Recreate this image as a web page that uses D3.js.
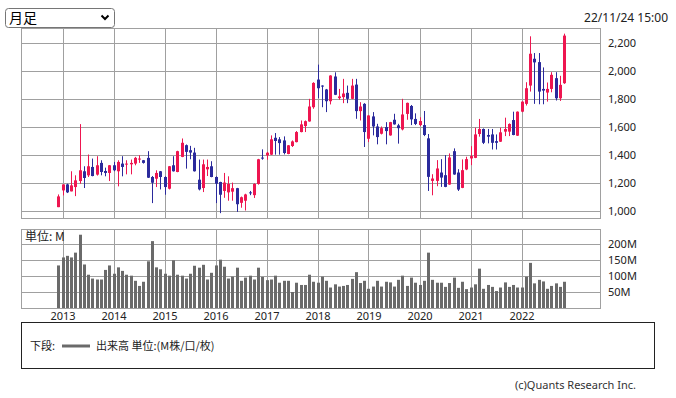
<!DOCTYPE html>
<html lang="ja">
<head>
<meta charset="UTF-8">
<title>月足チャート</title>
<style>
  body { margin: 0; background: #fff; font-family: 'Noto Sans', 'Noto Sans CJK JP', sans-serif; }
  svg { display: block; }
  .grid line, .frame { stroke: #a0a0a0; fill: none; shape-rendering: crispEdges; }
  .axis text { font-size: 11px; fill: #222; font-family: 'Noto Sans', sans-serif; }
  .axis path, .axis line { display: none; }
</style>
</head>
<body>
<svg id="chart" width="676" height="398"></svg>
<script src="https://d3js.org/d3.v7.min.js"></script>
<script>
// monthly candles, Dec 2012 - Nov 2022
const months = [
  "2012-12",
  "2013-01","2013-02","2013-03","2013-04","2013-05","2013-06","2013-07","2013-08","2013-09","2013-10","2013-11","2013-12",
  "2014-01","2014-02","2014-03","2014-04","2014-05","2014-06","2014-07","2014-08","2014-09","2014-10","2014-11","2014-12",
  "2015-01","2015-02","2015-03","2015-04","2015-05","2015-06","2015-07","2015-08","2015-09","2015-10","2015-11","2015-12",
  "2016-01","2016-02","2016-03","2016-04","2016-05","2016-06","2016-07","2016-08","2016-09","2016-10","2016-11","2016-12",
  "2017-01","2017-02","2017-03","2017-04","2017-05","2017-06","2017-07","2017-08","2017-09","2017-10","2017-11","2017-12",
  "2018-01","2018-02","2018-03","2018-04","2018-05","2018-06","2018-07","2018-08","2018-09","2018-10","2018-11","2018-12",
  "2019-01","2019-02","2019-03","2019-04","2019-05","2019-06","2019-07","2019-08","2019-09","2019-10","2019-11","2019-12",
  "2020-01","2020-02","2020-03","2020-04","2020-05","2020-06","2020-07","2020-08","2020-09","2020-10","2020-11","2020-12",
  "2021-01","2021-02","2021-03","2021-04","2021-05","2021-06","2021-07","2021-08","2021-09","2021-10","2021-11","2021-12",
  "2022-01","2022-02","2022-03","2022-04","2022-05","2022-06","2022-07","2022-08","2022-09","2022-10","2022-11"
];

const open = [
  1024,
  1144,1187,1137,1168,1211,1281,1252,1312,1257,1341,1283,1269,
  1324,1281,1336,1329,1331,1336,1365,1360,1377,1240,1228,1281,
  1240,1156,1324,1276,1384,1468,1432,1415,1221,1161,1295,1317,
  1240,1204,1140,1130,1135,1160,1055,1070,1130,1110,1190,1379,
  1395,1400,1521,1510,1502,1405,1462,1490,1562,1605,1638,1740,
  1938,1895,1867,1783,1960,1805,1812,1843,1800,1902,1712,1764,
  1514,1674,1602,1550,1598,1538,1650,1610,1581,1692,1749,1656,
  1612,1612,1517,1212,1212,1272,1253,1186,1425,1272,1162,1294,
  1373,1377,1548,1584,1541,1545,1497,1493,1565,1565,1648,1536,
  1708,1764,1895,2087,2063,1871,1845,1871,1948,1804,1912
];
const high = [
  1115,
  1187,1192,1281,1252,1619,1317,1401,1372,1389,1360,1307,1326,
  1348,1360,1389,1360,1365,1384,1396,1362,1425,1247,1288,1283,
  1245,1319,1389,1428,1516,1473,1463,1449,1365,1365,1365,1353,
  1245,1206,1269,1245,1200,1162,1100,1120,1140,1195,1370,1438,
  1420,1538,1555,1526,1531,1469,1502,1569,1645,1645,1800,1919,
  2045,1897,1871,1969,1990,1871,1943,1895,1943,1943,1776,1769,
  1683,1705,1621,1602,1633,1635,1693,1621,1800,1773,1756,1696,
  1668,1713,1548,1260,1361,1368,1397,1409,1445,1296,1366,1385,
  1461,1593,1656,1588,1584,1584,1545,1593,1665,1624,1708,1710,
  1782,1919,2248,2128,2128,2025,1917,1991,1991,1965,2267
];
const low = [
  1024,
  1108,1125,1137,1103,1192,1161,1240,1245,1250,1252,1245,1211,
  1281,1173,1245,1259,1259,1324,1341,1336,1233,1053,1168,1151,
  1113,1151,1279,1274,1382,1300,1367,1279,1144,1132,1247,1238,
  1053,981,1091,1070,1070,990,1020,1000,1110,1090,1185,1364,
  1364,1398,1400,1400,1402,1403,1455,1488,1560,1562,1636,1729,
  1805,1740,1705,1760,1827,1793,1769,1769,1798,1657,1645,1455,
  1490,1538,1474,1545,1474,1536,1615,1479,1574,1650,1612,1612,
  1605,1533,1140,1109,1174,1169,1167,1184,1256,1140,1160,1289,
  1325,1375,1529,1476,1481,1437,1437,1491,1533,1533,1539,1534,
  1704,1752,1852,1764,1761,1761,1780,1847,1788,1785,1907
];
const close = [
  1101,
  1187,1130,1180,1216,1288,1233,1317,1247,1324,1276,1269,1324,
  1288,1348,1312,1336,1341,1377,1372,1341,1235,1199,1269,1240,
  1168,1317,1281,1425,1485,1420,1415,1281,1151,1331,1312,1240,
  1192,1113,1200,1190,1160,1045,1095,1115,1125,1190,1367,1374,
  1414,1510,1498,1483,1412,1467,1495,1562,1617,1640,1745,1914,
  1876,1888,1783,1967,1829,1817,1838,1800,1895,1712,1745,1562,
  1681,1602,1526,1590,1569,1633,1617,1590,1688,1771,1653,1620,
  1641,1541,1241,1229,1301,1236,1169,1380,1258,1150,1289,1368,
  1390,1545,1584,1485,1529,1485,1485,1560,1584,1620,1541,1708,
  1780,1876,2123,2061,1852,1859,1871,1972,1804,1900,2253
];
// volume, millions
const volume = [
  133,
  158,163,158,173,229,136,104,92,89,89,119,133,
  107,127,116,104,101,85,69,82,146,209,127,121,
  107,101,149,104,101,92,107,132,126,135,89,110,
  133,151,129,92,98,126,85,95,101,89,126,97,
  87,89,101,79,85,85,50,79,72,72,104,82,
  79,98,85,64,74,67,69,72,91,112,78,85,
  60,67,85,67,82,80,67,88,101,69,95,79,
  72,85,173,88,79,79,66,78,95,63,82,59,
  64,74,123,60,72,66,53,64,80,66,72,64,
  64,98,141,77,88,83,60,69,77,66,82
];

const years = [2013, 2014, 2015, 2016, 2017, 2018, 2019, 2020, 2021, 2022];
const priceTicks = [1000, 1200, 1400, 1600, 1800, 2000, 2200];
const volTicks = [50, 100, 150, 200];

const UP = "#ee1650", DOWN = "#2b2a9c";

// months counted from Jan 2013
function monthIndex(s) {
    const [y, m] = s.split("-").map(Number);
    return (y - 2013) * 12 + (m - 1);
}

const svg = d3.select("#chart");
const L = 21, R = 600;
const pTop = 28, pBot = 218;
const vTop = 229, vBot = 308;

const x = d3.scaleLinear().domain([0, 108]).range([62.5, 521.5]);
const yP = d3.scaleLinear().domain([1000, 2200]).range([210.5, 43]);
const yV = d3.scaleLinear().domain([0, 200]).range([308, 244]);

const px = v => Math.round(v) + 0.5;

// header
svg.append("rect").attr("x", 5.5).attr("y", 8.5).attr("width", 109).attr("height", 19)
    .attr("rx", 3).attr("fill", "#fff").attr("stroke", "#767676");
svg.append("text").attr("x", 9).attr("y", 23).attr("font-size", 14)
    .attr("font-family", "'Noto Sans CJK JP', sans-serif").text("月足");
svg.append("path").attr("d", "M101.5,15.5 L105,19 L108.5,15.5")
    .attr("fill", "none").attr("stroke", "#000").attr("stroke-width", 2);
svg.append("text").attr("x", 668).attr("y", 22).attr("text-anchor", "end")
    .attr("font-size", 12).attr("fill", "#222").text("22/11/24 15:00");

// price panel grid
const gp = svg.append("g").attr("class", "grid");
gp.selectAll(".h").data(priceTicks).enter().append("line")
    .attr("x1", L).attr("x2", R).attr("y1", d => px(yP(d))).attr("y2", d => px(yP(d)));
gp.selectAll(".v").data(years).enter().append("line")
    .attr("y1", pTop).attr("y2", pBot)
    .attr("x1", d => px(x(monthIndex(d + "-01")))).attr("x2", d => px(x(monthIndex(d + "-01"))));
svg.append("rect").attr("class", "frame").attr("x", L + 0.5).attr("y", pTop + 0.5)
    .attr("width", R - L).attr("height", pBot - pTop);

// volume panel grid
const gv = svg.append("g").attr("class", "grid");
gv.selectAll(".h").data(volTicks).enter().append("line")
    .attr("x1", L).attr("x2", R).attr("y1", d => px(yV(d))).attr("y2", d => px(yV(d)));
gv.selectAll(".v").data(years).enter().append("line")
    .attr("y1", vTop).attr("y2", vBot)
    .attr("x1", d => px(x(monthIndex(d + "-01")))).attr("x2", d => px(x(monthIndex(d + "-01"))));
svg.append("rect").attr("class", "frame").attr("x", L + 0.5).attr("y", vTop + 0.5)
    .attr("width", R - L).attr("height", vBot - vTop);

// candles
const candles = months.map((m, i) => ({ i: monthIndex(m), o: open[i], h: high[i], l: low[i], c: close[i] }));
const cg = svg.append("g");
cg.selectAll("line").data(candles).enter().append("line")
    .attr("x1", d => px(x(d.i))).attr("x2", d => px(x(d.i)))
    .attr("y1", d => yP(d.h)).attr("y2", d => yP(d.l))
    .attr("stroke", d => d.c >= d.o ? UP : DOWN).attr("stroke-width", 1);
cg.selectAll("rect").data(candles).enter().append("rect")
    .attr("x", d => Math.round(x(d.i)) - 1).attr("width", 3)
    .attr("y", d => yP(Math.max(d.o, d.c)))
    .attr("height", d => Math.max(1, Math.abs(yP(d.o) - yP(d.c))))
    .attr("fill", d => d.c >= d.o ? UP : DOWN);

// volume bars
svg.append("g").selectAll("rect").data(months).enter().append("rect")
    .attr("x", (m) => Math.round(x(monthIndex(m))) - 1).attr("width", 3)
    .attr("y", (m, i) => yV(volume[i]))
    .attr("height", (m, i) => yV(0) - yV(volume[i]))
    .attr("fill", "#6a6a6a");

svg.append("text").attr("x", 25).attr("y", 241).attr("font-size", 12)
    .attr("font-family", "'Noto Sans CJK JP', sans-serif").attr("fill", "#222").text("単位: M");

// axes
svg.append("g").attr("class", "axis").attr("transform", `translate(${R},0)`)
    .call(d3.axisRight(yP).tickValues(priceTicks).tickFormat(d3.format(",")).tickSize(0).tickPadding(8));
svg.append("g").attr("class", "axis").attr("transform", `translate(${R},0)`)
    .call(d3.axisRight(yV).tickValues(volTicks).tickFormat(d => d + "M").tickSize(0).tickPadding(8));
svg.append("g").attr("class", "axis").attr("transform", `translate(0,${vBot})`)
    .call(d3.axisBottom(x).tickValues(years.map(y => monthIndex(y + "-01"))).tickFormat(i => 2013 + i / 12)
        .tickSize(0).tickPadding(4));

// legend
svg.append("rect").attr("x", 21.5).attr("y", 322.5).attr("width", 633).attr("height", 46)
    .attr("fill", "none").attr("stroke", "#222");
const lg = svg.append("g").attr("font-size", 11).attr("fill", "#222")
    .attr("font-family", "'Noto Sans CJK JP', sans-serif");
lg.append("text").attr("x", 30).attr("y", 350).text("下段:");
lg.append("line").attr("x1", 62).attr("x2", 90).attr("y1", 346).attr("y2", 346)
    .attr("stroke", "#6a6a6a").attr("stroke-width", 3);
lg.append("text").attr("x", 96).attr("y", 350).text("出来高 単位:(M株/口/枚)");

svg.append("text").attr("x", 636).attr("y", 389).attr("text-anchor", "end")
    .attr("font-size", 11).attr("fill", "#333").text("(c)Quants Research Inc.");
</script>
</body>
</html>
